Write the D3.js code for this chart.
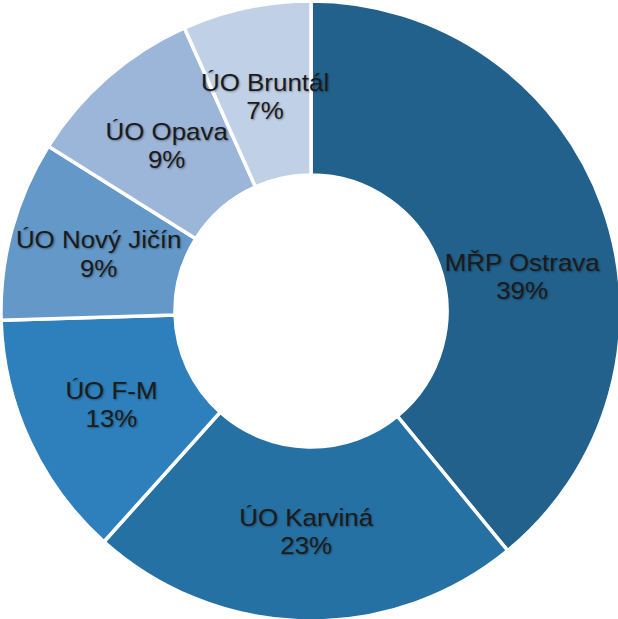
<!DOCTYPE html>
<html>
<head>
<meta charset="utf-8">
<script src="https://cdn.jsdelivr.net/npm/d3@7"></script>
<style>
  html, body { margin: 0; padding: 0; background: #fff; }
  svg { display: block; }
  .lbl { font-family: "Liberation Sans", Arial, sans-serif; font-size: 24px; fill: #1b1b1b;
         text-shadow: 1px 1px 2px rgba(0,0,0,0.35); }
</style>
</head>
<body>
<div id="chart"></div>
<script>
var categories = ['MŘP Ostrava', 'ÚO Karviná', 'ÚO F-M', 'ÚO Nový Jičín', 'ÚO Opava', 'ÚO Bruntál'];
var values = [39.1, 22.6, 12.9, 9.4, 9.4, 6.7];
var percentLabels = ['39%', '23%', '13%', '9%', '9%', '7%'];
var colors = ['#22618c', '#2671a4', '#2e80bd', '#6398c9', '#9cb6d9', '#c0d0e6'];

var w = 618, h = 619;
var cx = 311, cy = 311;

var svg = d3.select('#chart').append('svg')
  .attr('width', w).attr('height', h);

var g = svg.append('g').attr('transform', 'translate(' + cx + ',' + cy + ')');

var pie = d3.pie().sort(null).value(function (d) { return d; });
var arcs = pie(values);

var arc = d3.arc().innerRadius(136).outerRadius(310);
var labelArc = d3.arc().innerRadius(220).outerRadius(220);

g.selectAll('path.slice').data(arcs).join('path')
  .attr('class', 'slice')
  .attr('d', arc)
  .attr('fill', function (d, i) { return colors[i]; })
  .attr('stroke', '#fff')
  .attr('stroke-width', 3.5)
  .attr('stroke-linejoin', 'miter');

// the first label was dragged down a bit in the original
var nudge = { 0: [4, 39] };

var lbl = g.selectAll('g.lbl').data(arcs).join('g')
  .attr('class', 'lbl')
  .attr('transform', function (d, i) {
    var c = labelArc.centroid(d);
    var n = nudge[i] || [0, 0];
    return 'translate(' + (c[0] + n[0]) + ',' + (c[1] + n[1]) + ') scale(1.08,1)';
  });

lbl.append('text')
  .attr('text-anchor', 'middle')
  .attr('y', -5)
  .text(function (d, i) { return categories[i]; });

lbl.append('text')
  .attr('text-anchor', 'middle')
  .attr('y', 23.5)
  .text(function (d, i) { return percentLabels[i]; });
</script>
</body>
</html>
